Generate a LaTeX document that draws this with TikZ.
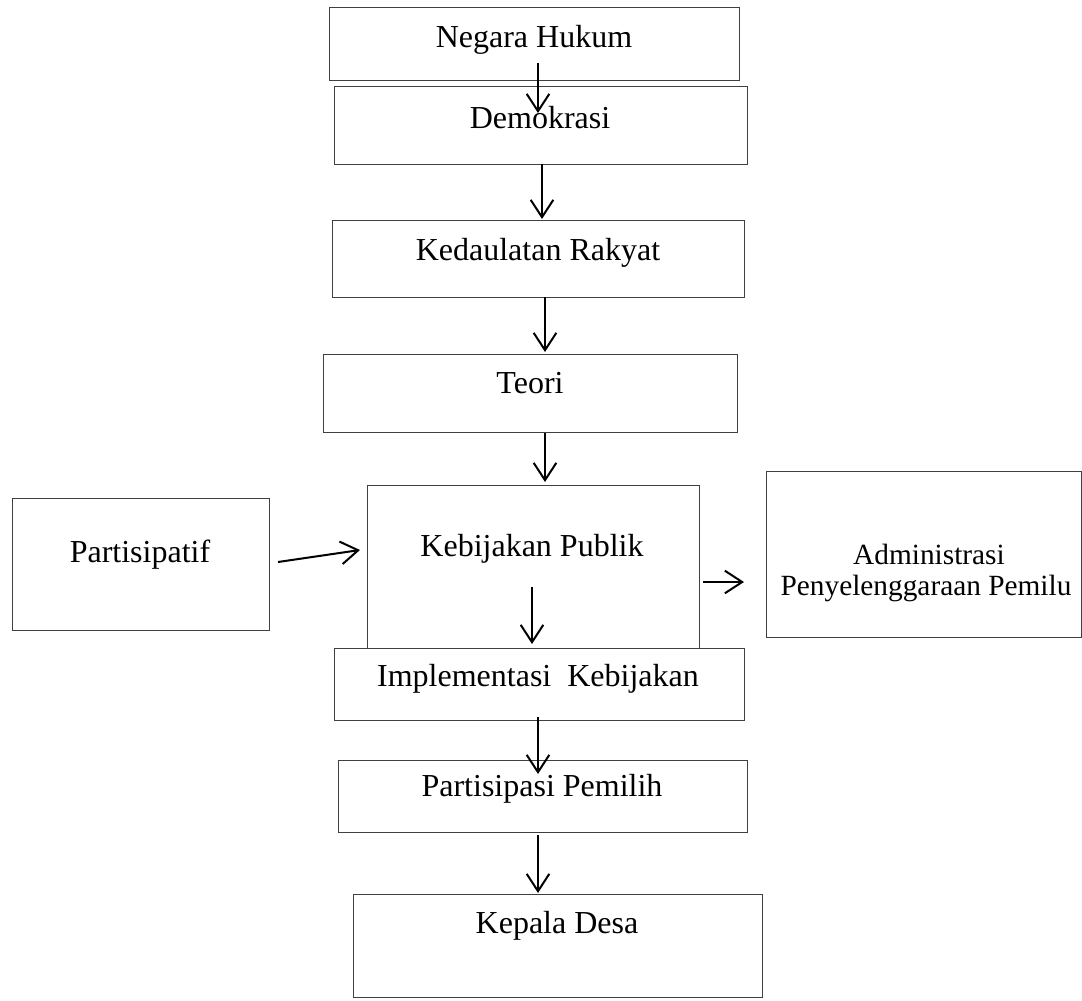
\documentclass[tikz,border=0pt]{standalone}
\usepackage{fontspec}
\setmainfont{Liberation Serif}
\usetikzlibrary{arrows.meta,fit}
\begin{document}
\begin{tikzpicture}[x=0.75pt,y=-0.75pt,
  box/.style={draw=black!75,line width=0.75pt,inner sep=0pt,rectangle},
  lbl/.style={inner sep=0pt,font=\fontsize{24}{28}\selectfont},
  slbl/.style={inner sep=0pt,font=\fontsize{22}{26}\selectfont},
  arr/.style={line width=1.5pt,-{Straight Barb[length=13pt,width=17pt,line width=1.5pt]}}]
\useasboundingbox (0,0) rectangle (1082,1000);
% boxes
\node[box,fit={(329,7) (739,80)}] (b1) {};
\node[lbl] (t1) at (534,40) {Negara Hukum};
\node[box,fit={(334,86) (747,164)}] (b2) {};
\node[lbl] (t2) at (540,118) {Demokrasi};
\node[box,fit={(332,220) (744,297)}] (b3) {};
\node[lbl] (t3) at (538,253) {Kedaulatan Rakyat};
\node[box,fit={(323,354) (737,432)}] (b4) {};
\node[lbl] (t4) at (530,383) {Teori};
\node[box,fit={(367,485) (699,648)}] (b5) {};
\node[lbl] (t5) at (532,549) {Kebijakan Publik};
\node[box,fit={(334,648) (744,720)}] (b6) {};
\node[lbl] (t6) at (538,679) {Implementasi\ \ Kebijakan};
\node[box,fit={(338,760) (747,832)}] (b7) {};
\node[lbl] (t7) at (542,789) {Partisipasi Pemilih};
\node[box,fit={(353,894) (762,997)}] (b8) {};
\node[lbl] (t8) at (557,926) {Kepala Desa};
\node[box,fit={(12,498) (269,630)}] (bp) {};
\node[lbl] (tp) at (140,555) {Partisipatif};
\node[box,fit={(766,471) (1081,637)}] (ba) {};
\node[slbl] (ta1) at (929,554) {Administrasi};
\node[slbl] (ta2) at (926,588) {Penyelenggaraan Pemilu};
% arrow end points
\coordinate (a1s) at (538,63);  \coordinate (a1e) at (538,113);
\coordinate (a2s) at (542,164); \coordinate (a2e) at (542,219);
\coordinate (a3s) at (545,297); \coordinate (a3e) at (545,352);
\coordinate (a4s) at (545,433); \coordinate (a4e) at (545,482);
\coordinate (a5s) at (532,587); \coordinate (a5e) at (532,644);
\coordinate (a6s) at (538,717); \coordinate (a6e) at (538,774);
\coordinate (a7s) at (538,835); \coordinate (a7e) at (538,893);
\coordinate (aps) at (278,562); \coordinate (ape) at (360,550);
\coordinate (aas) at (703,582); \coordinate (aae) at (744,582);
\draw[arr] (a1s) -- (a1e);
\draw[arr] (a2s) -- (a2e);
\draw[arr] (a3s) -- (a3e);
\draw[arr] (a4s) -- (a4e);
\draw[arr] (a5s) -- (a5e);
\draw[arr] (a6s) -- (a6e);
\draw[arr] (a7s) -- (a7e);
\draw[arr] (aps) -- (ape);
\draw[arr] (aas) -- (aae);
\end{tikzpicture}
\end{document}
